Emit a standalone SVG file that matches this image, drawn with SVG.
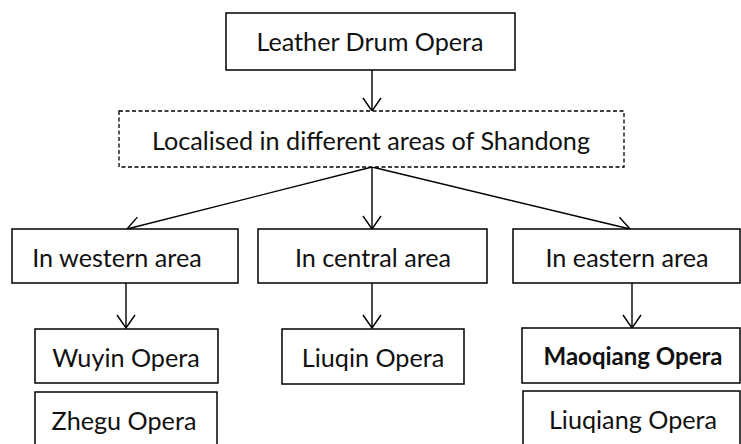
<svg xmlns="http://www.w3.org/2000/svg" width="741" height="444" viewBox="0 0 741 444">
<style>
.box{fill:#fff;stroke:#000;stroke-width:1.5}
.dash{fill:#fff;stroke:#000;stroke-width:1.3;stroke-dasharray:4 2.5}
text{font-family:Lato,"Open Sans",sans-serif;font-size:25.2px;fill:#111;text-anchor:middle}
.b{font-weight:bold;font-size:24px}
.c{fill:none;stroke:#000;stroke-width:1.4;marker-end:url(#a)}
</style>
<defs>
<marker id="a" viewBox="0 0 20 20" refX="19" refY="10" markerWidth="20" markerHeight="20" markerUnits="userSpaceOnUse" orient="auto">
<path d="M6,1 L19,10 L6,19" fill="none" stroke="#000" stroke-width="1.4"/>
</marker>
</defs>
<rect width="741" height="444" fill="#fff"/>
<g id="connectors">
<line class="c" x1="372" y1="70" x2="372" y2="111"/>
<line class="c" x1="372" y1="167" x2="127" y2="229"/>
<line class="c" x1="372" y1="167" x2="372" y2="229"/>
<line class="c" x1="372" y1="167" x2="630" y2="229"/>
<line class="c" x1="126" y1="283" x2="126" y2="328"/>
<line class="c" x1="372" y1="283" x2="372" y2="328"/>
<line class="c" x1="632" y1="283" x2="632" y2="328"/>
</g>
<g id="n-leather"><rect class="box" x="226" y="13" width="289" height="57"/><text x="370" y="51">Leather Drum Opera</text></g>
<g id="n-localised"><rect class="dash" x="119" y="111" width="505" height="56"/><text x="371" y="150">Localised in different areas of Shandong</text></g>
<g id="n-western"><rect class="box" x="12" y="229" width="226" height="54"/><text x="117" y="267">In western area</text></g>
<g id="n-central"><rect class="box" x="258" y="229" width="229" height="54"/><text x="373" y="267">In central area</text></g>
<g id="n-eastern"><rect class="box" x="513" y="229" width="227" height="54"/><text x="627" y="267">In eastern area</text></g>
<g id="n-wuyin"><rect class="box" x="35" y="329" width="183" height="54"/><text x="126" y="367">Wuyin Opera</text></g>
<g id="n-zhegu"><rect class="box" x="35" y="392" width="182" height="60"/><text x="124" y="430">Zhegu Opera</text></g>
<g id="n-liuqin"><rect class="box" x="282" y="329" width="182" height="55"/><text x="373" y="367">Liuqin Opera</text></g>
<g id="n-maoqiang"><rect class="box" x="522" y="328" width="218" height="55"/><text class="b" x="633" y="365">Maoqiang Opera</text></g>
<g id="n-liuqiang"><rect class="box" x="523" y="391" width="217" height="60"/><text x="633" y="429">Liuqiang Opera</text></g>
</svg>
